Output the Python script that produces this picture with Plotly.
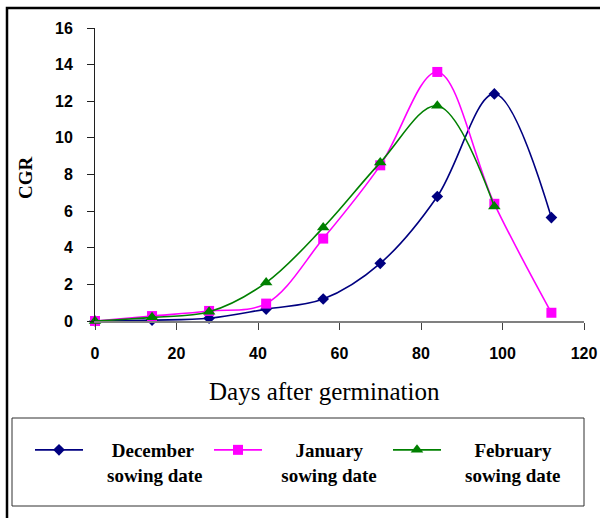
import plotly.graph_objects as go

days = [0, 14, 28, 42, 56, 70, 84, 98, 112]
december = [0.0, 0.05, 0.15, 0.65, 1.2, 3.15, 6.8, 12.4, 5.65]
january = [0.0, 0.27, 0.55, 0.95, 4.5, 8.5, 13.6, 6.4, 0.45]
feb_days = [0, 14, 28, 42, 56, 70, 84, 98]
february = [0.0, 0.2, 0.5, 2.1, 5.1, 8.65, 11.75, 6.25]

x_ticks = [0, 20, 40, 60, 80, 100, 120]
y_ticks = [0, 2, 4, 6, 8, 10, 12, 14, 16]

W, H = 600, 518
L, R, T, B = 95, 584, 28, 321


def px(x):
    return (x - L) / (R - L)


def py(y):
    return (B - y) / (B - T)


NB = "\u00a0"

fig = go.Figure()
fig.add_trace(go.Scatter(
    x=days, y=december, name=NB * 5 + "December<br>" + NB * 4 + "sowing date", mode="lines+markers",
    line=dict(color="#000080", width=1.6, shape="spline", smoothing=1),
    marker=dict(symbol="diamond", size=9, color="#000080"), cliponaxis=False))
fig.add_trace(go.Scatter(
    x=days, y=january, name=NB * 6 + "January<br>" + NB * 3 + "sowing date", mode="lines+markers",
    line=dict(color="#FF00FF", width=1.6, shape="spline", smoothing=1),
    marker=dict(symbol="square", size=10, color="#FF00FF"), cliponaxis=False))
fig.add_trace(go.Scatter(
    x=feb_days, y=february, name=NB * 6 + "February<br>" + NB * 4 + "sowing date", mode="lines+markers",
    line=dict(color="#008000", width=1.6, shape="spline", smoothing=1),
    marker=dict(symbol="triangle-up", size=11, color="#008000"), cliponaxis=False))

tickfont = dict(family="Arial, Liberation Sans", size=16, color="black", weight="bold")

fig.update_layout(
    width=W, height=H,
    margin=dict(l=L, r=W - R, t=T, b=H - B, pad=0, autoexpand=False),
    paper_bgcolor="white", plot_bgcolor="white",
    showlegend=True,
    legend=dict(
        orientation="h", x=px(30), y=py(431), xanchor="left", yanchor="top",
        itemwidth=48, entrywidth=116, valign="top",
        font=dict(family="Times New Roman, Liberation Serif", size=19, color="black", weight="bold"),
        bgcolor="rgba(0,0,0,0)", borderwidth=0, traceorder="normal",
        itemclick=False,
    ),
    xaxis=dict(
        range=[0, 120], tickvals=x_ticks, showgrid=False, zeroline=False,
        showline=True, linecolor="#808080", linewidth=1.5,
        ticks="outside", ticklen=7, tickcolor="#404040", tickwidth=1,
        tickfont=tickfont, ticklabelstandoff=10,
    ),
    yaxis=dict(
        range=[0, 16], tickvals=y_ticks, showgrid=False, zeroline=False,
        showline=True, linecolor="#202020", linewidth=1,
        ticks="outside", ticklen=7, tickcolor="#202020", tickwidth=1,
        tickfont=tickfont, ticklabelstandoff=11,
    ),
    shapes=[
        dict(type="rect", xref="paper", yref="paper",
             x0=px(7), x1=px(620), y0=py(540), y1=py(8),
             line=dict(color="black", width=2.5), fillcolor="rgba(0,0,0,0)", layer="below"),
        dict(type="rect", xref="paper", yref="paper",
             x0=px(12), x1=px(584), y0=py(506), y1=py(418),
             line=dict(color="#303030", width=1), fillcolor="rgba(0,0,0,0)", layer="below"),
    ],
    annotations=[
        dict(text="Days after germination", xref="paper", yref="paper",
             x=px(324), y=py(391), xanchor="center", yanchor="middle", showarrow=False,
             font=dict(family="Times New Roman, Liberation Serif", size=25, color="black")),
        dict(text="CGR", xref="paper", yref="paper", textangle=-90,
             x=px(25), y=py(178), xanchor="center", yanchor="middle", showarrow=False,
             font=dict(family="Times New Roman, Liberation Serif", size=19, color="black", weight="bold")),
    ],
)

fig.write_html("out.html")
